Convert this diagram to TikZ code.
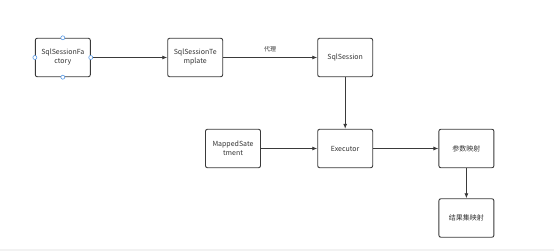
\documentclass[tikz,border=0pt]{standalone}
\usepackage{fontspec}
\setmainfont{Noto Sans CJK SC}
\usepackage{xcolor}
\usetikzlibrary{arrows.meta,positioning}
\definecolor{lineGray}{HTML}{3A3A3A}
\definecolor{textGray}{HTML}{333333}
\definecolor{handleBlue}{HTML}{5B9BE6}
\definecolor{stripGray}{HTML}{F2F2F2}

\begin{document}
\begin{tikzpicture}[
  x=1pt, y=-1pt,
  every node/.style={font=\fontsize{7}{9}\selectfont, align=center, text=textGray},
  block/.style={draw=lineGray,line width=0.9pt,rounded corners=2pt,fill=white,minimum width=55pt,minimum height=38.5pt,inner sep=1pt},
  handle/.style={circle,draw=handleBlue,fill=white,line width=0.6pt,minimum size=4pt,inner sep=0pt},
  arrow/.style={-{Latex[length=5pt,width=4pt]},line width=0.8pt,color=lineGray}
]
\useasboundingbox (0,0) rectangle (554,251);
\fill[stripGray] (0,249) rectangle (554,251);

% top row
\node[block] (factory) at (62.8,57.5) {SqlSessionFa\\ctory};
\node[block] (template) at (195.2,57.5) {SqlSessionTe\\mplate};
\node[block] (session) at (345.2,57.5) {SqlSession};

% middle row
\node[block] (mapped) at (233,148.5) {MappedSate\\tment};
\node[block] (executor) at (345.2,148.5) {Executor};
\node[block] (param) at (466.4,148.5) {参数映射};

% bottom
\node[block] (result) at (466.4,218) {结果集映射};

% connectors
\draw[arrow] (factory) -- (template);
\draw[arrow] (template) -- node[above=2pt,font=\fontsize{6}{8}\selectfont]{代理} (session);
\draw[arrow] (session) -- (executor);
\draw[arrow] (mapped) -- (executor);
\draw[arrow] (executor) -- (param);
\draw[arrow] (param) -- (result);

% selection handles
\foreach \a in {north,south,east,west}
  \node[handle] at (factory.\a) {};
\end{tikzpicture}
\end{document}
